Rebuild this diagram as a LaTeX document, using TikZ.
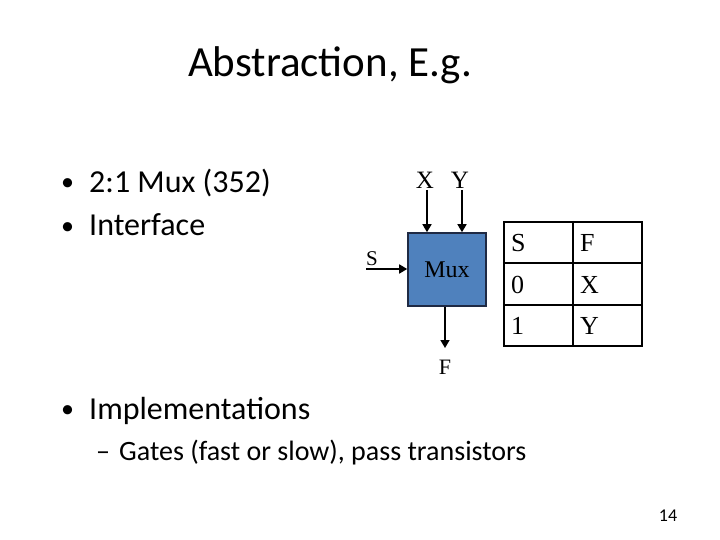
\documentclass[tikz,border=0pt]{standalone}
\usepackage{fontspec}
\setmainfont{Carlito}
\newfontfamily\timesfont{Liberation Serif}
\usetikzlibrary{arrows.meta}
\definecolor{muxblue}{HTML}{4F81BD}
\definecolor{muxedge}{HTML}{1F2A44}

\begin{document}
\begin{tikzpicture}[x=1pt,y=-1pt,
    wire/.style={line width=1.6pt,-{Triangle[length=8pt,width=9pt]}},
    sig/.style={font=\timesfont\fontsize{26}{26}\selectfont,inner sep=0pt},
    bullet/.style={anchor=base west,inner sep=0pt,font=\fontsize{32}{32}\selectfont},
    dot/.style={anchor=base west,inner sep=0pt,font=\fontsize{26}{26}\selectfont}]
  \useasboundingbox (0,0) rectangle (720,540);

  \node[anchor=base,inner sep=0pt] (title) at (330,77) {\fontsize{43}{43}\selectfont Abstraction, E.g.};
  \node[dot] (b1) at (61,191) {\textbullet};
  \node[bullet] (mux352) at (89,193) {2:1 Mux (352)};
  \node[dot] (b2) at (61,234) {\textbullet};
  \node[bullet] (iface) at (89,236) {Interface};
  \node[dot] (b3) at (61,417) {\textbullet};
  \node[bullet] (impl) at (89,419) {Implementations};
  \node[bullet,font=\fontsize{28}{28}\selectfont] (dash) at (96,460) {--};
  \node[bullet,font=\fontsize{28}{28}\selectfont] (gates) at (119,460) {Gates (fast or slow), pass transistors};
  \node[font=\fontsize{18}{18}\selectfont] (page) at (668,516) {14};

  % the mux block
  \node[draw=muxedge,fill=muxblue,line width=1.6pt,minimum width=78pt,minimum height=73pt,
        font=\timesfont\fontsize{24}{24}\selectfont] (mux) at (447,269.5) {Mux};
  \node[sig,font=\timesfont\fontsize{25}{25}\selectfont] (X) at (425,180) {X};
  \node[sig,font=\timesfont\fontsize{25}{25}\selectfont] (Y) at (460,180) {Y};
  \node[sig,font=\timesfont\fontsize{21}{21}\selectfont] (S) at (372,259) {S};
  \node[sig,font=\timesfont\fontsize{22}{22}\selectfont] (F) at (445,367) {F};
  \coordinate (Xtop) at (427,190);
  \coordinate (Ytop) at (462,190);
  \coordinate (Sin) at (366,269);
  \coordinate (Fout) at (445,348);

  \draw[wire] (Xtop) -- (Xtop |- mux.north);
  \draw[wire] (Ytop) -- (Ytop |- mux.north);
  \draw[wire] (Sin) -- (mux.west |- Sin);
  \draw[wire] (mux.south -| Fout) -- (Fout);

  % truth table
  \node[draw,line width=2.4pt,minimum width=138pt,minimum height=124pt,inner sep=0pt] (tab) at (573,284) {};
  \draw[line width=1.6pt] (tab.north) -- (tab.south);
  \draw[line width=1.6pt] (tab.west |- 0,263) -- (tab.east |- 0,263);
  \draw[line width=1.6pt] (tab.west |- 0,305) -- (tab.east |- 0,305);
  \node[sig,anchor=west] (hS) at (511,243) {S};
  \node[sig,anchor=west] (hF) at (580,243) {F};
  \node[sig,anchor=west] (r0) at (511,285) {0};
  \node[sig,anchor=west] (rX) at (580,285) {X};
  \node[sig,anchor=west] (r1) at (511,326) {1};
  \node[sig,anchor=west] (rY) at (580,326) {Y};
\end{tikzpicture}
\end{document}
